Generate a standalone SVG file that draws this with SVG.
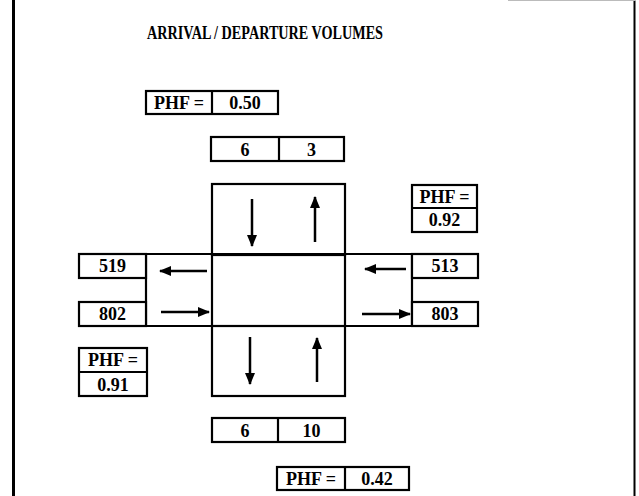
<svg xmlns="http://www.w3.org/2000/svg" width="639" height="496" viewBox="0 0 639 496">
<style>
  .box { fill: #fff; stroke: #000; stroke-width: 2.2; }
  .ln { stroke: #000; stroke-width: 2.2; fill: none; }
  .t { font-family: "Liberation Serif", "Times New Roman", serif; font-weight: bold; font-size: 18px; fill: #000; text-anchor: middle; }
  .arr { stroke: #000; stroke-width: 2.5; fill: none; marker-end: url(#head); }
</style>
<defs>
  <marker id="head" markerUnits="userSpaceOnUse" markerWidth="12" markerHeight="10" refX="11" refY="5" orient="auto">
    <path d="M0,0 L12,5 L0,10 Z" fill="#000"/>
  </marker>
</defs>
<rect x="0" y="0" width="639" height="496" fill="#fff"/>
<g id="frame">
  <line x1="13.5" y1="0" x2="13.5" y2="496" stroke="#000" stroke-width="3"/>
  <line x1="634.5" y1="0" x2="634.5" y2="496" stroke="#000" stroke-width="2"/>
  <line x1="508" y1="0.5" x2="636" y2="0.5" stroke="#bbb" stroke-width="1"/>
</g>
<g id="title">
  <text class="t" x="265" y="39" font-size="19" textLength="236" lengthAdjust="spacingAndGlyphs">ARRIVAL / DEPARTURE VOLUMES</text>
</g>
<g id="phf-north">
  <rect class="box" x="146" y="91" width="132" height="23"/>
  <line class="ln" x1="212" y1="91" x2="212" y2="114"/>
  <text class="t" x="179" y="108.5">PHF =</text>
  <text class="t" x="245" y="108.5">0.50</text>
</g>
<g id="north-volumes">
  <rect class="box" x="211" y="137" width="133" height="24"/>
  <line class="ln" x1="279" y1="137" x2="279" y2="161"/>
  <text class="t" x="245" y="156">6</text>
  <text class="t" x="311.5" y="156">3</text>
</g>
<g id="intersection">
  <rect class="box" x="212" y="184" width="133" height="71"/>
  <rect class="box" x="212" y="326" width="133" height="70"/>
  <line class="ln" x1="79" y1="254" x2="478" y2="254"/>
  <line class="ln" x1="79" y1="326" x2="478" y2="326"/>
  <line class="ln" x1="146" y1="254" x2="146" y2="326"/>
  <line class="ln" x1="212" y1="254" x2="212" y2="326"/>
  <line class="ln" x1="345" y1="254" x2="345" y2="326"/>
  <line class="ln" x1="412" y1="254" x2="412" y2="326"/>
</g>
<g id="phf-east">
  <rect class="box" x="412" y="185" width="65" height="47"/>
  <line class="ln" x1="412" y1="208" x2="477" y2="208"/>
  <text class="t" x="444.5" y="202.5">PHF =</text>
  <text class="t" x="444.5" y="226">0.92</text>
</g>
<g id="west-out">
  <rect class="box" x="79" y="254" width="67" height="24"/>
  <text class="t" x="112.5" y="271.5">519</text>
</g>
<g id="west-in">
  <rect class="box" x="79" y="302" width="67" height="24"/>
  <text class="t" x="112.5" y="319.5">802</text>
</g>
<g id="east-in">
  <rect class="box" x="412" y="254" width="66" height="24"/>
  <text class="t" x="445" y="271.5">513</text>
</g>
<g id="east-out">
  <rect class="box" x="412" y="302" width="66" height="24"/>
  <text class="t" x="445" y="319.5">803</text>
</g>
<g id="phf-west">
  <rect class="box" x="79" y="348" width="68" height="48"/>
  <line class="ln" x1="79" y1="372" x2="147" y2="372"/>
  <text class="t" x="113" y="366">PHF =</text>
  <text class="t" x="113" y="390.5">0.91</text>
</g>
<g id="south-volumes">
  <rect class="box" x="212" y="418" width="133" height="24"/>
  <line class="ln" x1="278" y1="418" x2="278" y2="442"/>
  <text class="t" x="245" y="437">6</text>
  <text class="t" x="311.5" y="437">10</text>
</g>
<g id="phf-south">
  <rect class="box" x="277" y="467" width="132" height="23"/>
  <line class="ln" x1="345" y1="467" x2="345" y2="490"/>
  <text class="t" x="311" y="485">PHF =</text>
  <text class="t" x="377" y="485">0.42</text>
</g>
<g id="connectors">
  <line class="arr" x1="252" y1="199" x2="252" y2="246"/>
  <line class="arr" x1="315" y1="242" x2="315" y2="197"/>
  <line class="arr" x1="207" y1="271" x2="160" y2="271"/>
  <line class="arr" x1="161" y1="312" x2="209" y2="312"/>
  <line class="arr" x1="406" y1="269" x2="365" y2="269"/>
  <line class="arr" x1="362" y1="314" x2="410" y2="314"/>
  <line class="arr" x1="250" y1="337" x2="250" y2="384"/>
  <line class="arr" x1="317" y1="382" x2="317" y2="338"/>
</g>
</svg>
